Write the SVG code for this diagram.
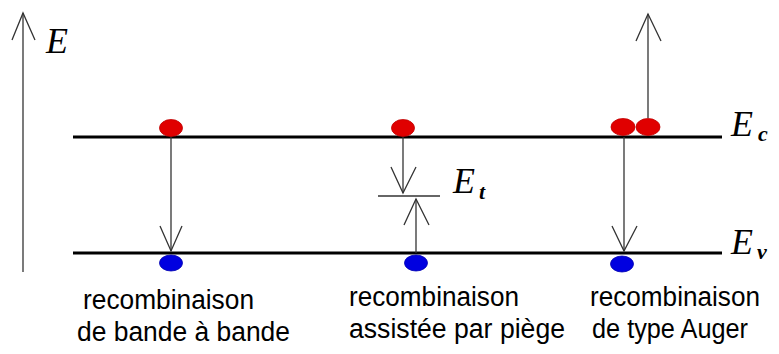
<svg xmlns="http://www.w3.org/2000/svg" width="779" height="354" viewBox="0 0 779 354">
<style>
.band{stroke:#000;stroke-width:3}
.ar{stroke:#333;stroke-width:1.3;fill:none}
.el{fill:#e00000;stroke:#c00000;stroke-width:0.8}
.ho{fill:#0000e0;stroke:#0000b0;stroke-width:0.8}
.math{font-family:"Liberation Serif",serif;font-style:italic;font-size:36px;fill:#000}
.sub{font-family:"Liberation Serif",serif;font-style:italic;font-weight:bold;font-size:22px;fill:#000}
.lbl{font-family:"Liberation Sans",Arial,sans-serif;font-size:27px;fill:#000}
</style>
<rect width="779" height="354" fill="#fff"/>
<g id="axis">
<line x1="23" y1="272" x2="23" y2="13" class="ar"/>
<polyline points="12,40 23,13 35,40" class="ar"/>
<text x="46" y="53" class="math">E</text>
</g>
<g id="Ec">
<line x1="73" y1="137" x2="722" y2="137" class="band"/>
<text x="731" y="136" class="math">E</text><text x="758" y="141" class="sub">c</text>
</g>
<g id="Ev">
<line x1="73" y1="253" x2="722" y2="253" class="band"/>
<text x="731" y="254" class="math">E</text><text x="757" y="259" class="sub">v</text>
</g>
<g id="connectors">
<line x1="171" y1="137" x2="171" y2="251" class="ar"/>
<polyline points="160,226 171,251 182,226" class="ar"/>
<line x1="403" y1="137" x2="403" y2="193" class="ar"/>
<polyline points="391,167 403,193 416,167" class="ar"/>
<line x1="378" y1="196" x2="440" y2="196" class="ar"/>
<line x1="416" y1="253" x2="416" y2="199" class="ar"/>
<polyline points="404,225 416,199 429,225" class="ar"/>
<line x1="624" y1="137" x2="624" y2="251" class="ar"/>
<polyline points="612,226 624,251 637,226" class="ar"/>
<line x1="648" y1="118" x2="648" y2="14" class="ar"/>
<polyline points="636,41 648,14 661,41" class="ar"/>
</g>
<g id="band-to-band">
<ellipse cx="171" cy="128" rx="11.5" ry="8.5" class="el"/>
<ellipse cx="171" cy="263" rx="11.5" ry="8" class="ho"/>
<text x="83" y="309" class="lbl" textLength="171" lengthAdjust="spacingAndGlyphs">recombinaison</text>
<text x="77" y="341" class="lbl" textLength="213" lengthAdjust="spacingAndGlyphs">de bande à bande</text>
</g>
<g id="trap">
<ellipse cx="403" cy="128" rx="11.5" ry="8.5" class="el"/>
<ellipse cx="416" cy="263" rx="11.5" ry="8" class="ho"/>
<text x="453" y="193" class="math">E</text><text x="479" y="199" class="sub">t</text>
<text x="349" y="306" class="lbl" textLength="170" lengthAdjust="spacingAndGlyphs">recombinaison</text>
<text x="349" y="338" class="lbl" textLength="216" lengthAdjust="spacingAndGlyphs">assistée par piège</text>
</g>
<g id="auger">
<ellipse cx="623" cy="127" rx="12" ry="8.5" class="el"/>
<ellipse cx="648" cy="127" rx="12" ry="8.5" class="el"/>
<ellipse cx="622" cy="264" rx="11.5" ry="8" class="ho"/>
<text x="590" y="306" class="lbl" textLength="170" lengthAdjust="spacingAndGlyphs">recombinaison</text>
<text x="592" y="338" class="lbl" textLength="156" lengthAdjust="spacingAndGlyphs">de type Auger</text>
</g>
</svg>
